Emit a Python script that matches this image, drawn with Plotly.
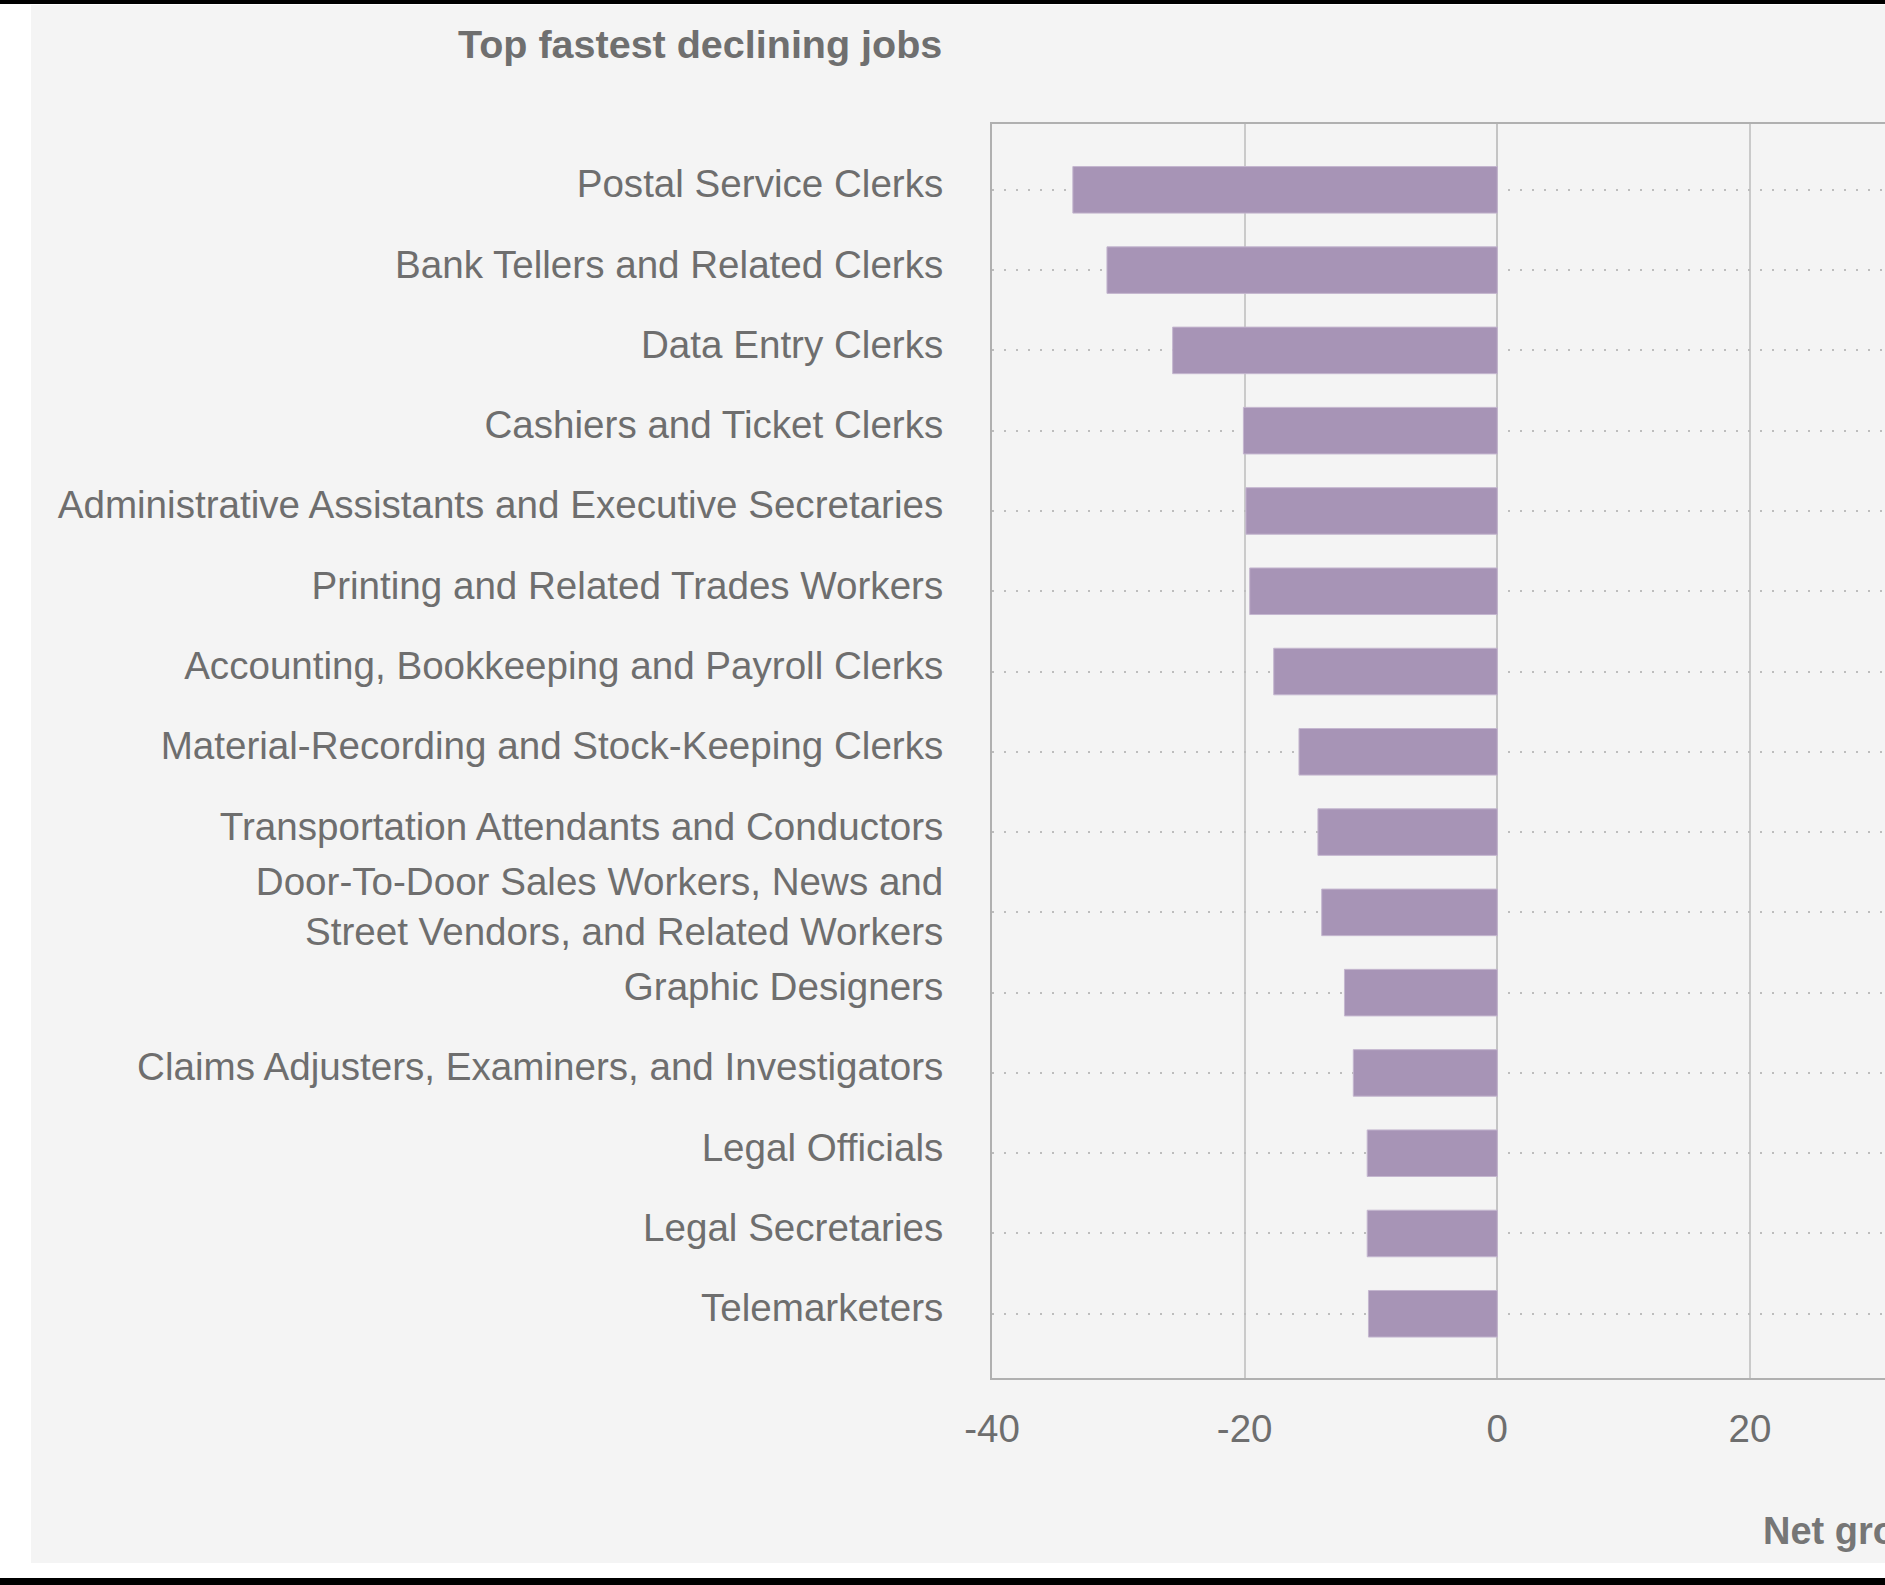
import plotly.graph_objects as go

# ---- data ----
jobs = [
    "Postal Service Clerks",
    "Bank Tellers and Related Clerks",
    "Data Entry Clerks",
    "Cashiers and Ticket Clerks",
    "Administrative Assistants and Executive Secretaries",
    "Printing and Related Trades Workers",
    "Accounting, Bookkeeping and Payroll Clerks",
    "Material-Recording and Stock-Keeping Clerks",
    "Transportation Attendants and Conductors",
    "Door-To-Door Sales Workers, News and<br>Street Vendors, and Related Workers",
    "Graphic Designers",
    "Claims Adjusters, Examiners, and Investigators",
    "Legal Officials",
    "Legal Secretaries",
    "Telemarketers",
]
net_growth = [-33.6, -30.9, -25.7, -20.1, -19.9, -19.6, -17.7, -15.7,
              -14.2, -13.9, -12.1, -11.4, -10.3, -10.3, -10.2]
x_ticks = [-40, -20, 0, 20]
x_tick_labels = ["-40", "-20", "0", "20"]

# ---- layout geometry (pixels) ----
W_FIG, H_FIG = 1885, 1585
L, T = 992, 124
PW, PH = W_FIG - L, 1254
B = H_FIG - T - PH

def xp(px):
    return (px - L) / PW

def yp(py):
    return (T + PH - py) / PH

FONT = "Liberation Sans, Arial, Helvetica, sans-serif"
TXT = "#6e6e6e"

fig = go.Figure()
fig.add_trace(go.Bar(
    y=jobs, x=net_growth, orientation="h", width=0.58,
    marker=dict(color="#a794b6", line=dict(color="#c4b6cf", width=1)),
    hoverinfo="x+y",
))

shapes = [
    # grey card background
    dict(type="rect", xref="paper", yref="paper", x0=xp(31), x1=xp(1890),
         y0=yp(1563), y1=yp(5), fillcolor="#f4f4f4", line=dict(width=0), layer="below"),
    # black bands from the screenshot crop
    dict(type="rect", xref="paper", yref="paper", x0=xp(-5), x1=xp(1890),
         y0=yp(4), y1=yp(-5), fillcolor="#000000", line=dict(width=0), layer="above"),
    dict(type="rect", xref="paper", yref="paper", x0=xp(-5), x1=xp(1890),
         y0=yp(1590), y1=yp(1578), fillcolor="#000000", line=dict(width=0), layer="above"),
]

annotations = [
    dict(text="<b>Top fastest declining jobs</b>", xref="paper", yref="paper",
         x=xp(944), y=yp(44), xanchor="right", yanchor="middle", showarrow=False,
         font=dict(family=FONT, size=39.5, color="#6f6f6f")),
    dict(text="<b>Net growth</b>", xref="paper", yref="paper",
         x=xp(1761), y=yp(1531), xanchor="left", yanchor="middle", showarrow=False,
         font=dict(family=FONT, size=38, color="#767676")),
]

fig.update_layout(
    width=W_FIG, height=H_FIG,
    margin=dict(l=L, r=0, t=T, b=B, pad=0),
    paper_bgcolor="#ffffff",
    plot_bgcolor="#f4f4f4",
    showlegend=False,
    bargap=0.42,
    font=dict(family=FONT, size=38, color=TXT),
    shapes=shapes,
    annotations=annotations,
    xaxis=dict(
        range=[-40, -40 + PW / 12.633],
        tickvals=x_ticks, ticktext=x_tick_labels,
        showgrid=True, gridcolor="#cacaca", gridwidth=2,
        zeroline=True, zerolinecolor="#c4c4c4", zerolinewidth=2,
        showline=True, linecolor="#b0b0b0", linewidth=2, mirror=True,
        ticks="outside", ticklen=16, tickcolor="rgba(0,0,0,0)",
        tickfont=dict(family=FONT, size=38.5, color=TXT),
        fixedrange=True,
    ),
    yaxis=dict(
        type="category",
        categoryorder="array", categoryarray=jobs,
        range=[len(jobs) - 1 + 0.8, -0.82],
        showgrid=True, gridcolor="#bdbdbd", gridwidth=2, griddash="2px,10px",
        showline=True, linecolor="#b0b0b0", linewidth=2, mirror=False,
        ticks="outside", ticklen=39, tickcolor="rgba(0,0,0,0)",
        tickfont=dict(family=FONT, size=38.6, color=TXT),
        ticklabelshift=6,
        fixedrange=True,
    ),
)

fig.write_html("out.html", config={"displayModeBar": False})
